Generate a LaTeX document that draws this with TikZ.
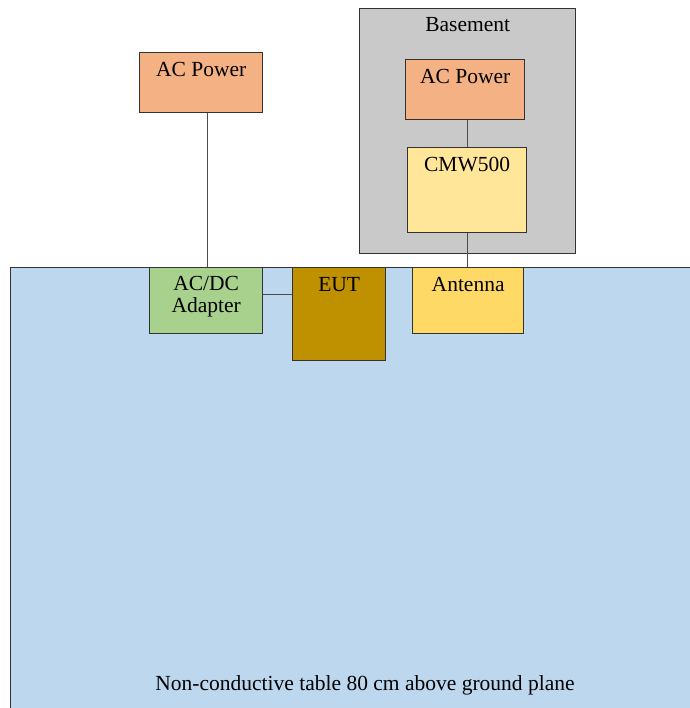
\documentclass[tikz,border=0pt]{standalone}
\usepackage{fontspec}
\setmainfont{Liberation Serif}
\usepackage{tikz}
\usetikzlibrary{positioning,calc}

\definecolor{powercol}{HTML}{F4B183}
\definecolor{cmwcol}{HTML}{FFE699}
\definecolor{antcol}{HTML}{FFD966}
\definecolor{adaptcol}{HTML}{A9D18E}
\definecolor{eutcol}{HTML}{BF9000}
\definecolor{basecol}{HTML}{C9C9C9}
\definecolor{tablecol}{HTML}{BDD7EE}

\begin{document}
\begin{tikzpicture}[
	x=1pt, y=-1pt,
	box/.style={draw=black!80, line width=1.3pt, anchor=north west, inner sep=0pt},
	lbl/.style={anchor=north, align=center, inner sep=2pt, font=\fontsize{21.5}{22}\selectfont},
	wire/.style={draw=black!70, line width=1.3pt}
	]
	\useasboundingbox (0,0) rectangle (689,708);
	% table and basement
	\node[box, fill=tablecol, minimum width=700pt, minimum height=460pt] (table) at (10,267) {};
	\node[box, fill=basecol, minimum width=216pt, minimum height=245pt] (base) at (359,8) {};
	\node[lbl] (baselbl) at ([yshift=-7pt]base.north) {Basement};
	% equipment
	\node[box, fill=powercol, minimum width=123pt, minimum height=60pt] (acp) at (139,52) {};
	\node[lbl] (acplbl) at ([yshift=-8pt]acp.north) {AC Power};
	\node[box, fill=powercol, minimum width=119pt, minimum height=60pt] (bacp) at (405,59) {};
	\node[lbl] (bacplbl) at ([yshift=-8pt]bacp.north) {AC Power};
	\node[box, fill=cmwcol, minimum width=119pt, minimum height=85pt] (cmw) at (407,147) {};
	\node[lbl] (cmwlbl) at ([yshift=-8pt]cmw.north) {CMW500};
	\node[box, fill=adaptcol, minimum width=113pt, minimum height=66pt] (adapter) at (149,267) {};
	\node[lbl] (adapterlbl) at ([yshift=-7pt]adapter.north) {AC/DC\\Adapter};
	\node[box, fill=eutcol, minimum width=93pt, minimum height=93pt] (eut) at (292,267) {};
	\node[lbl] (eutlbl) at ([yshift=-8pt]eut.north) {EUT};
	\node[box, fill=antcol, minimum width=111pt, minimum height=66pt] (ant) at (412,267) {};
	\node[lbl] (antlbl) at ([yshift=-8pt]ant.north) {Antenna};
	\node[font=\fontsize{21.5}{22}\selectfont] (tablelbl) at (365,685) {Non-conductive table 80 cm above ground plane};
	% cables
	\draw[wire] ([xshift=6pt]acp.south) -- ([xshift=6pt]acp.south |- adapter.north);
	\draw[wire] ([yshift=6pt]adapter.east) -- ([yshift=6pt]adapter.east -| eut.west);
	\draw[wire] ([xshift=2pt]bacp.south) -- ([xshift=2pt]bacp.south |- cmw.north);
	\draw[wire] (cmw.south) -- (cmw.south |- ant.north);
\end{tikzpicture}
\end{document}
